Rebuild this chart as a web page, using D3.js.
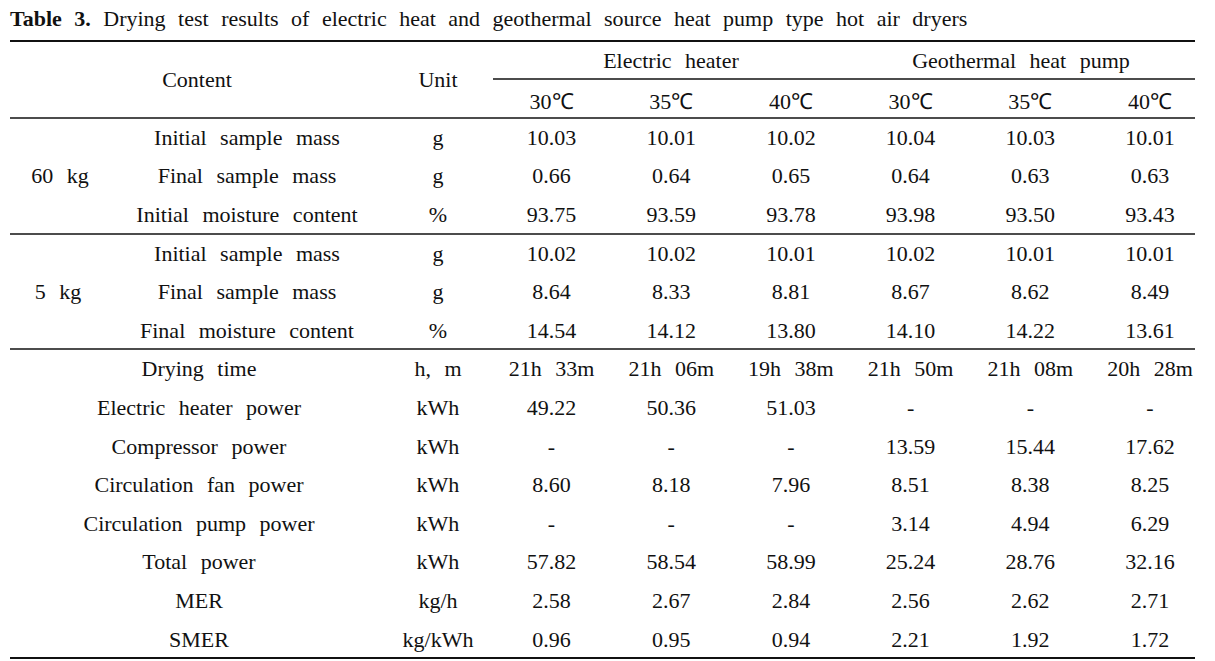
<!DOCTYPE html>
<html>
<head>
<meta charset="utf-8">
<style>
  body{ margin:0; background:#fff; }
  #vis{ display:block; }
  text{ font-family:"Liberation Serif","Times New Roman",serif; fill:#111; }
</style>
<script src="https://d3js.org/d3.v7.min.js"></script>
</head>
<body>
<svg id="vis"></svg>
<script>
  var width = 1215, height = 661;

  // data -------------------------------------------------
  var groups = ["Electric heater", "Geothermal heat pump"];
  var temps = ["30℃", "35℃", "40℃", "30℃", "35℃", "40℃"];

  var sample60 = [
    ["Initial sample mass", "g", ["10.03", "10.01", "10.02", "10.04", "10.03", "10.01"]],
    ["Final sample mass", "g", ["0.66", "0.64", "0.65", "0.64", "0.63", "0.63"]],
    ["Initial moisture content", "%", ["93.75", "93.59", "93.78", "93.98", "93.50", "93.43"]]
  ];
  var sample5 = [
    ["Initial sample mass", "g", ["10.02", "10.02", "10.01", "10.02", "10.01", "10.01"]],
    ["Final sample mass", "g", ["8.64", "8.33", "8.81", "8.67", "8.62", "8.49"]],
    ["Final moisture content", "%", ["14.54", "14.12", "13.80", "14.10", "14.22", "13.61"]]
  ];
  var energy = [
    ["Drying time", "h, m", ["21h 33m", "21h 06m", "19h 38m", "21h 50m", "21h 08m", "20h 28m"]],
    ["Electric heater power", "kWh", ["49.22", "50.36", "51.03", "-", "-", "-"]],
    ["Compressor power", "kWh", ["-", "-", "-", "13.59", "15.44", "17.62"]],
    ["Circulation fan power", "kWh", ["8.60", "8.18", "7.96", "8.51", "8.38", "8.25"]],
    ["Circulation pump power", "kWh", ["-", "-", "-", "3.14", "4.94", "6.29"]],
    ["Total power", "kWh", ["57.82", "58.54", "58.99", "25.24", "28.76", "32.16"]],
    ["MER", "kg/h", ["2.58", "2.67", "2.84", "2.56", "2.62", "2.71"]],
    ["SMER", "kg/kWh", ["0.96", "0.95", "0.94", "2.21", "1.92", "1.72"]]
  ];
  var sampleLabels = ["60 kg", "5 kg"];

  // scales -------------------------------------------------
  var left = 10, right = 1195;
  var colX = d3.scalePoint().domain(d3.range(6)).range([551.5, 1150]);
  var rowY = d3.scaleLinear().domain([0, 13]).range([137, 639]);

  var svg = d3.select("#vis").attr("width", width).attr("height", height);

  function addText(x, y, str, opts) {
    opts = opts || {};
    return svg.append("text")
      .attr("x", x)
      .attr("y", y)
      .attr("dy", "0.35em")
      .attr("text-anchor", opts.anchor || "middle")
      .style("font-size", (opts.size || 22) + "px")
      .style("word-spacing", (opts.ws == null ? 8 : opts.ws) + "px")
      .text(str);
  }

  function addLine(x1, x2, y, w) {
    svg.append("line")
      .attr("x1", x1).attr("x2", x2)
      .attr("y1", y).attr("y2", y)
      .style("stroke", "#111")
      .style("stroke-width", w);
  }

  // title -------------------------------------------------
  var title = svg.append("text")
    .attr("x", left)
    .attr("y", 26)
    .style("font-size", "22px")
    .style("word-spacing", "7px");
  title.append("tspan").style("font-weight", "bold").text("Table 3.");
  title.append("tspan").text(" Drying test results of electric heat and geothermal source heat pump type hot air dryers");

  // rules -------------------------------------------------
  addLine(left, right, 41, 2);
  addLine(493, right, 79, 1.5);
  addLine(left, right, 118, 1.5);
  addLine(left, right, 234, 1.5);
  addLine(left, right, 349, 1.5);
  addLine(left, right, 658, 2);

  // header -------------------------------------------------
  addText(197, 79, "Content");
  addText(438, 79, "Unit");
  addText(671, 60, groups[0]);
  addText(1021, 60, groups[1]);
  temps.forEach(function(t, i) { addText(colX(i), 101, t); });

  // body -------------------------------------------------
  function addRow(r, i, cx) {
    var y = rowY(i);
    addText(cx, y, r[0]);
    addText(438, y, r[1]);
    r[2].forEach(function(v, j) { addText(colX(j), y, v); });
  }

  sample60.forEach(function(r, i) { addRow(r, i, 247); });
  sample5.forEach(function(r, i) { addRow(r, i + 3, 247); });
  energy.forEach(function(r, i) { addRow(r, i + 6, 199); });

  addText(60, rowY(1), sampleLabels[0]);
  addText(58, rowY(4), sampleLabels[1]);
</script>
</body>
</html>
